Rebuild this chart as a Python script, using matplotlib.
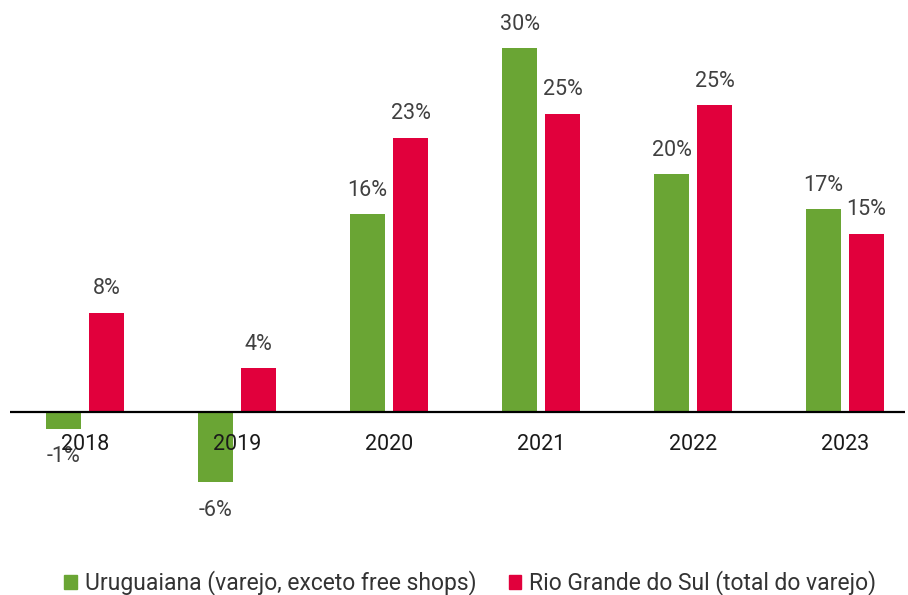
import matplotlib
matplotlib.use('Agg')
import matplotlib.pyplot as plt
import matplotlib.patches as mpatches
import numpy as np

years = ['2018', '2019', '2020', '2021', '2022', '2023']
uruguaiana = [-1.4, -5.8, 16.3, 30.0, 19.6, 16.7]
rio_grande = [8.2, 3.6, 22.6, 24.6, 25.3, 14.7]
series_names = ['Uruguaiana (varejo, exceto free shops)',
                'Rio Grande do Sul (total do varejo)']

GREEN = '#6aa534'
RED = '#e1003c'

plt.rcParams['font.family'] = ['Roboto', 'DejaVu Sans']

fig = plt.figure(figsize=(9.08, 5.95), dpi=100)
# axes placed in pixel terms: left 10, right 905, top 30, bottom 520
W, H = 908, 595
ax = fig.add_axes([10 / W, 1 - 520 / H, (905 - 10) / W, (520 - 30) / H])

x = np.arange(len(years))
offset = 0.1414
width = 0.23
bars_g = ax.bar(x - offset, uruguaiana, width, color=GREEN)
bars_r = ax.bar(x + offset, rio_grande, width, color=RED)

# pixel scale: 0 at y=412, 30 at y=48
px_per_unit = (412 - 48) / 30.0
ax.set_ylim(-(520 - 412) / px_per_unit, (412 - 30) / px_per_unit)
ax.set_xlim((10 - 85) / 152.0, (905 - 85) / 152.0)

for bars in (bars_g, bars_r):
    for b in bars:
        v = b.get_height()
        cx = b.get_x() + b.get_width() / 2
        dy = 24 if v >= 0 else -28
        ax.annotate('%.0f%%' % v, (cx, v), xytext=(0, dy),
                    textcoords='offset pixels', ha='center', va='center',
                    fontsize=15.5, color='#404040', annotation_clip=False)

ax.axhline(0, color='black', linewidth=1.6)
for spine in ax.spines.values():
    spine.set_visible(False)
ax.set_yticks([])
ax.set_xticks([])
for xi, yr in zip(x, years):
    ax.annotate(yr, (xi, 0), xytext=(0, -33), textcoords='offset pixels',
                ha='center', va='center', fontsize=15.5, color='#1a1a1a',
                annotation_clip=False)

handles = [mpatches.Patch(color=GREEN, label=series_names[0]),
           mpatches.Patch(color=RED, label=series_names[1])]
fig.legend(handles=handles, loc='center', bbox_to_anchor=(0.518, 1 - 583 / H),
           ncol=2, frameon=False, fontsize=16.5, handlelength=0.55,
           handleheight=0.55, handletextpad=0.35, columnspacing=1.4,
           labelcolor='#333333')

fig.savefig('out.png', dpi=100)
